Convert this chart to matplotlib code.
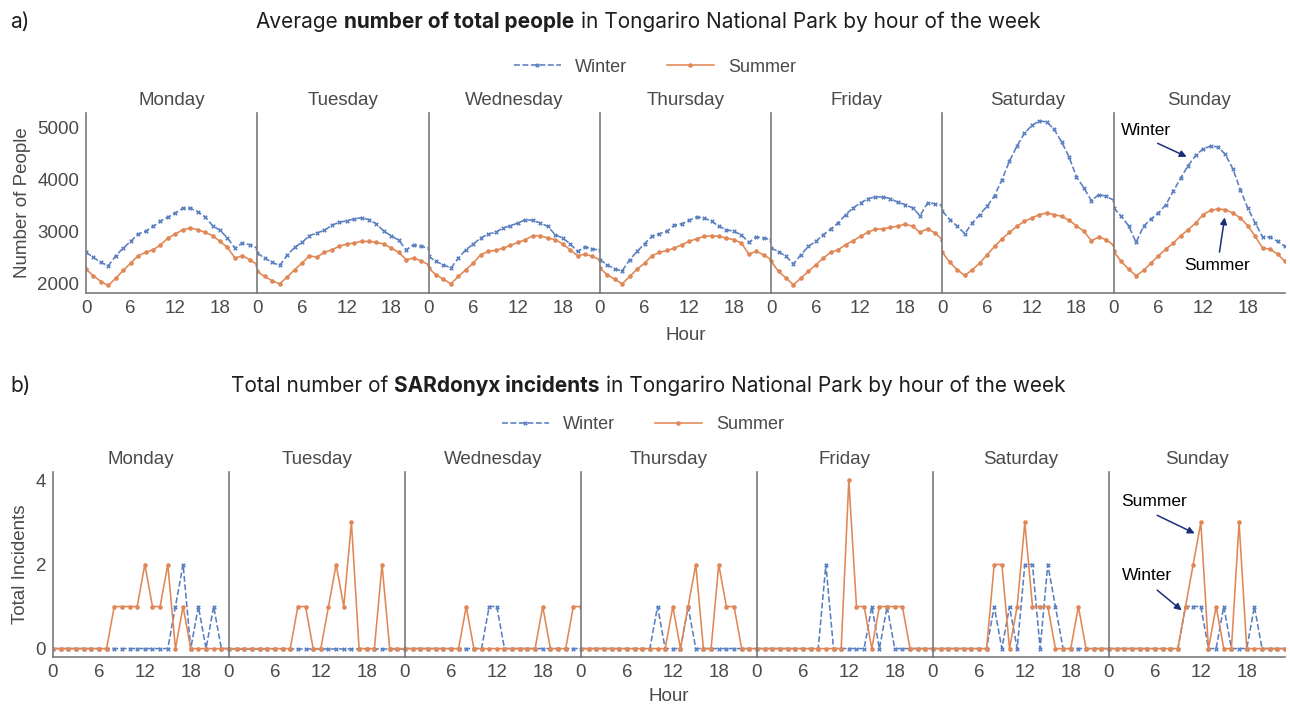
import matplotlib.pyplot as plt
import numpy as np

# ---- data ----
days = ['Monday', 'Tuesday', 'Wednesday', 'Thursday', 'Friday', 'Saturday', 'Sunday']
hours = list(range(24))

winter_people = [
    [2594, 2497, 2400, 2335, 2530, 2677, 2806, 2948, 3000, 3097, 3194, 3277, 3355, 3445, 3445, 3380, 3277, 3110, 3019, 2871, 2677, 2774, 2742, 2677],
    [2580, 2484, 2400, 2342, 2535, 2690, 2787, 2916, 2968, 3019, 3116, 3174, 3206, 3239, 3265, 3226, 3142, 3000, 2916, 2826, 2645, 2742, 2710, 2677],
    [2516, 2419, 2355, 2290, 2484, 2645, 2755, 2871, 2948, 2981, 3065, 3110, 3161, 3226, 3213, 3161, 3097, 2935, 2871, 2761, 2613, 2697, 2665, 2632],
    [2452, 2355, 2271, 2239, 2452, 2613, 2761, 2903, 2955, 3000, 3116, 3148, 3213, 3277, 3258, 3194, 3097, 3032, 3000, 2935, 2787, 2890, 2871, 2839],
    [2677, 2610, 2516, 2374, 2548, 2710, 2806, 2935, 3045, 3161, 3323, 3452, 3548, 3632, 3665, 3665, 3632, 3561, 3516, 3452, 3303, 3548, 3535, 3503],
    [3387, 3226, 3097, 2955, 3161, 3323, 3484, 3690, 4000, 4355, 4645, 4890, 5045, 5129, 5116, 4968, 4729, 4439, 4052, 3839, 3594, 3710, 3677, 3600],
    [3452, 3290, 3110, 2787, 3097, 3239, 3355, 3516, 3774, 4032, 4271, 4465, 4594, 4645, 4632, 4484, 4206, 3806, 3452, 3161, 2890, 2890, 2806, 2710],
]
summer_people = [
    [2271, 2142, 2032, 1955, 2097, 2245, 2387, 2529, 2594, 2645, 2735, 2871, 2948, 3032, 3065, 3032, 2981, 2916, 2806, 2690, 2484, 2529, 2452, 2355],
    [2226, 2129, 2045, 1987, 2116, 2258, 2387, 2529, 2503, 2594, 2645, 2710, 2755, 2774, 2806, 2806, 2787, 2755, 2677, 2594, 2452, 2484, 2432, 2355],
    [2290, 2161, 2077, 1987, 2129, 2258, 2387, 2548, 2613, 2632, 2677, 2729, 2787, 2839, 2916, 2916, 2871, 2839, 2761, 2645, 2529, 2561, 2516, 2452],
    [2290, 2161, 2077, 1987, 2129, 2271, 2387, 2529, 2594, 2632, 2677, 2742, 2806, 2858, 2903, 2916, 2903, 2871, 2839, 2774, 2561, 2613, 2548, 2452],
    [2419, 2226, 2097, 1968, 2097, 2226, 2355, 2484, 2594, 2645, 2742, 2819, 2903, 2981, 3045, 3045, 3077, 3097, 3142, 3097, 2981, 3052, 2968, 2839],
    [2594, 2400, 2258, 2148, 2258, 2387, 2548, 2710, 2852, 2981, 3097, 3194, 3258, 3323, 3355, 3323, 3290, 3213, 3110, 3000, 2819, 2890, 2839, 2729],
    [2613, 2419, 2271, 2142, 2245, 2387, 2529, 2658, 2774, 2916, 3032, 3161, 3323, 3406, 3432, 3419, 3355, 3258, 3110, 2903, 2677, 2658, 2561, 2419],
]

winter_incidents = [
    [0, 0, 0, 0, 0, 0, 0, 0, 0, 0, 0, 0, 0, 0, 0, 0, 1, 2, 0, 1, 0, 1, 0, 0],
    [0, 0, 0, 0, 0, 0, 0, 0, 0, 0, 0, 0, 0, 0, 0, 0, 0, 0, 0, 0, 0, 0, 0, 0],
    [0, 0, 0, 0, 0, 0, 0, 0, 0, 0, 0, 1, 1, 0, 0, 0, 0, 0, 0, 0, 0, 0, 0, 0],
    [0, 0, 0, 0, 0, 0, 0, 0, 0, 0, 1, 0, 0, 0, 1, 0, 0, 0, 0, 0, 0, 0, 0, 0],
    [0, 0, 0, 0, 0, 0, 0, 0, 0, 2, 0, 0, 0, 0, 0, 1, 0, 1, 0, 0, 0, 0, 0, 0],
    [0, 0, 0, 0, 0, 0, 0, 0, 1, 0, 1, 0, 2, 2, 0, 2, 1, 0, 0, 0, 0, 0, 0, 0],
    [0, 0, 0, 0, 0, 0, 0, 0, 0, 0, 1, 1, 1, 0, 0, 1, 0, 0, 0, 1, 0, 0, 0, 0],
]
summer_incidents = [
    [0, 0, 0, 0, 0, 0, 0, 0, 1, 1, 1, 1, 2, 1, 1, 2, 0, 1, 0, 0, 0, 0, 0, 0],
    [0, 0, 0, 0, 0, 0, 0, 0, 0, 1, 1, 0, 0, 1, 2, 1, 3, 0, 0, 0, 2, 0, 0, 0],
    [0, 0, 0, 0, 0, 0, 0, 0, 1, 0, 0, 0, 0, 0, 0, 0, 0, 0, 1, 0, 0, 0, 1, 1],
    [0, 0, 0, 0, 0, 0, 0, 0, 0, 0, 0, 0, 1, 0, 1, 2, 0, 0, 2, 1, 1, 0, 0, 0],
    [0, 0, 0, 0, 0, 0, 0, 0, 0, 0, 0, 0, 4, 1, 1, 0, 1, 1, 1, 1, 0, 0, 0, 0],
    [0, 0, 0, 0, 0, 0, 0, 0, 2, 2, 0, 1, 3, 1, 1, 1, 0, 0, 0, 1, 0, 0, 0, 0],
    [0, 0, 0, 0, 0, 0, 0, 0, 0, 0, 1, 2, 3, 0, 1, 0, 0, 3, 0, 0, 0, 0, 0, 0],
]

# ---- styling ----
W, H = 1290, 711
WINTER = '#5a7fc0'
SUMMER = '#e08755'
GREY_TXT = '#4a4a4a'
SPINE = '#7a7a7a'
ARROW = '#1a2f7a'
plt.rcParams['font.family'] = ['Liberation Sans', 'DejaVu Sans']

fig = plt.figure(figsize=(W / 100, H / 100), dpi=100)


def make_row(x0, x1, ytop, ybot):  # one row of 7 day panels, pixel coords
    axes = []
    w = (x1 - x0) / 7
    for i in range(7):
        ax = fig.add_axes([(x0 + i * w) / W, 1 - ybot / H, w / W, (ybot - ytop) / H])
        axes.append(ax)
    return axes


def style_row(axes, winter, summer, ylim, yticks, ylabel, ylabel_x, xlabel_y):
    for i, ax in enumerate(axes):
        ax.plot(hours, winter[i], color=WINTER, linestyle='--', linewidth=1.15,
                marker='X', markersize=3.3, markeredgewidth=0, label='Winter')
        ax.plot(hours, summer[i], color=SUMMER, linestyle='-', linewidth=1.15,
                marker='o', markersize=3.3, markeredgewidth=0, label='Summer')
        ax.set_xlim(0, 23)
        ax.set_ylim(*ylim)
        ax.set_xticks([0, 6, 12, 18])
        ax.set_yticks(yticks)
        for s in ['top', 'right']:
            ax.spines[s].set_visible(False)
        for s in ['left', 'bottom']:
            ax.spines[s].set_color(SPINE)
            ax.spines[s].set_linewidth(1.2)
        ax.tick_params(length=0, labelsize=13.5, labelcolor=GREY_TXT, pad=5)
        ax.set_title(days[i], fontsize=13.5, color=GREY_TXT, pad=6)
        if i > 0:
            ax.tick_params(labelleft=False)
    axes[0].set_ylabel(ylabel, fontsize=13.5, color=GREY_TXT)
    axes[0].yaxis.set_label_coords(ylabel_x, 0.5)
    axes[3].set_xlabel('Hour', fontsize=13.5, color=GREY_TXT)
    axes[3].xaxis.set_label_coords(0.5, xlabel_y)


def bold_title(xc, yc, before, bold, after):  # title with a bold middle part
    kw = dict(fontsize=15, family=['Inter', 'DejaVu Sans'], color='#1e1e1e', va='center')
    r = fig.canvas.get_renderer()
    t1 = fig.text(0, yc / H, before, **kw)
    t2 = fig.text(0, yc / H, bold, fontweight='bold', **kw)
    t3 = fig.text(0, yc / H, after, **kw)
    probe_a = fig.text(0, 0, 'a a', **kw)
    probe_b = fig.text(0, 0, 'aa', **kw)
    sp = probe_a.get_window_extent(r).width - probe_b.get_window_extent(r).width
    probe_a.remove()
    probe_b.remove()
    widths = [t.get_window_extent(r).width for t in (t1, t2, t3)]
    x = xc - (sum(widths) + 2 * sp) / 2
    for t, w in zip((t1, t2, t3), widths):
        t.set_x(x / W)
        x += w + sp


top_axes = make_row(86, 1285, 113, 293)
style_row(top_axes, winter_people, summer_people, (1810, 5285), [2000, 3000, 4000, 5000],
          'Number of People', (31 - 86) / 171.3, -0.19)

bot_axes = make_row(53, 1285, 472, 657)
style_row(bot_axes, winter_incidents, summer_incidents, (-0.2, 4.2), [0, 2, 4],
          'Total Incidents', (29 - 53) / 176, -0.168)

# legends
for ax, ly, lx in [(top_axes[0], 67, 655), (bot_axes[0], 425, 643)]:
    handles, labels = ax.get_legend_handles_labels()
    fig.legend(handles, labels, loc='center', bbox_to_anchor=(lx / W, 1 - ly / H),
               ncol=2, frameon=False, fontsize=13, labelcolor=GREY_TXT,
               handlelength=2.6, handletextpad=0.8, columnspacing=2.2)

# annotations on Sunday panels
arrow_kw = dict(arrowstyle='-|>', color=ARROW, lw=1.1, mutation_scale=10, shrinkA=0, shrinkB=0)
sun = top_axes[6]
sun.annotate('', xy=(9.8, 4440), xytext=(5.9, 4700), arrowprops=arrow_kw)
sun.text(4.4, 4950, 'Winter', ha='center', va='center', fontsize=12.5, color='black')
sun.annotate('', xy=(14.9, 3270), xytext=(14.2, 2600), arrowprops=arrow_kw)
sun.text(13.9, 2350, 'Summer', ha='center', va='center', fontsize=12.5, color='black')

sun = bot_axes[6]
sun.annotate('', xy=(11.2, 2.74), xytext=(6.3, 3.17), arrowprops=arrow_kw)
sun.text(5.9, 3.5, 'Summer', ha='center', va='center', fontsize=12.5, color='black')
sun.annotate('', xy=(9.5, 0.91), xytext=(6.3, 1.39), arrowprops=arrow_kw)
sun.text(5.0, 1.73, 'Winter', ha='center', va='center', fontsize=12.5, color='black')

# panel titles
fig.text(10 / W, 1 - 22 / H, 'a)', fontsize=15, family=['Inter', 'DejaVu Sans'], color='#1e1e1e', va='center')
fig.text(10 / W, 1 - 386 / H, 'b)', fontsize=15, family=['Inter', 'DejaVu Sans'], color='#1e1e1e', va='center')
bold_title(648, H - 22, 'Average', 'number of total people', 'in Tongariro National Park by hour of the week')
bold_title(648, H - 386, 'Total number of', 'SARdonyx incidents', 'in Tongariro National Park by hour of the week')

fig.savefig('out.png', dpi=100)
